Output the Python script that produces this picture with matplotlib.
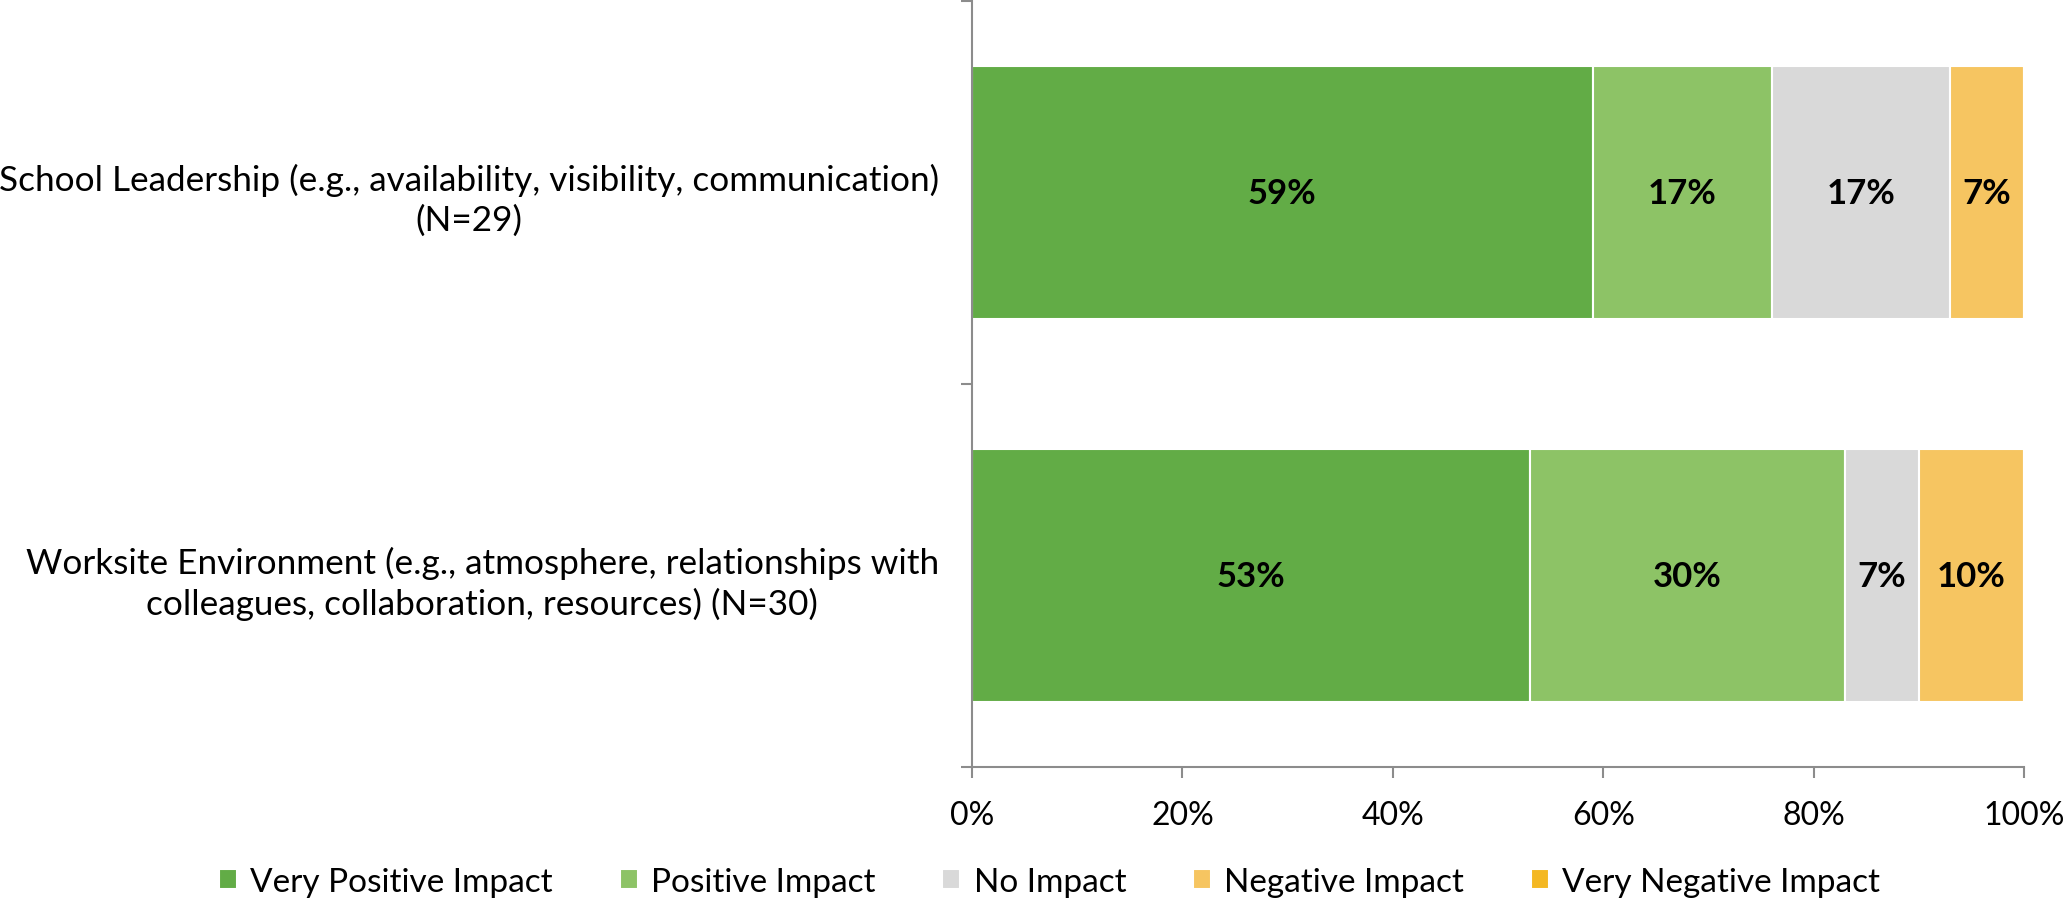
import numpy as np
import matplotlib.pyplot as plt
from matplotlib.ticker import PercentFormatter

plt.rcParams['font.family'] = ['Lato', 'DejaVu Sans']

# data
categorias = ['School Leadership (e.g., availability, visibility, communication)\n(N=29)',
              'Worksite Environment (e.g., atmosphere, relationships with\ncolleagues, collaboration, resources) (N=30)']
series = ['Very Positive Impact', 'Positive Impact', 'No Impact', 'Negative Impact', 'Very Negative Impact']
muito_positivo = [59, 53]
positivo = [17, 30]
sem_impacto = [17, 7]
negativo = [7, 10]
muito_negativo = [0, 0]
cores = ['#62AC46', '#8DC366', '#D9D9D9', '#F6C561', '#F4B823']

valores = [muito_positivo, positivo, sem_impacto, negativo, muito_negativo]

fig = plt.figure(figsize=(20.66, 9.04), dpi=100)
ax = fig.add_axes([0.4705, 0.1504, 0.5092, 0.8474])

y = np.arange(len(categorias))
esquerda = np.zeros(len(categorias))
for nome, v, cor in zip(series, valores, cores):
    v = np.array(v, dtype=float)
    ax.barh(y, v, left=esquerda, height=0.66, color=cor,
            edgecolor='white', linewidth=1.5, label=nome)
    for yi, vi, li in zip(y, v, esquerda):
        if vi > 0:
            ax.text(li + vi / 2, yi, f'{vi:.0f}%', ha='center', va='center',
                    fontsize=25, fontweight='bold', color='black')
    esquerda += v

ax.set_xlim(0, 100)
ax.set_ylim(1.5, -0.5)
ax.xaxis.set_major_formatter(PercentFormatter(decimals=0))
ax.set_xticks(np.arange(0, 101, 20))
ax.set_yticks(y)
ax.set_yticklabels(categorias, multialignment='center', linespacing=1.3)
ax.set_yticks([-0.5, 0.5, 1.5], minor=True)

cinza = '#8C8C8C'
for lado in ['top', 'right']:
    ax.spines[lado].set_visible(False)
for lado in ['left', 'bottom']:
    ax.spines[lado].set_color(cinza)
    ax.spines[lado].set_linewidth(1.5)

ax.tick_params(axis='y', which='major', length=0, pad=24, labelsize=25.3)
ax.tick_params(axis='y', which='minor', length=8, width=1.5, color=cinza)
ax.tick_params(axis='x', which='major', length=8, width=1.5, color=cinza,
               pad=16, labelsize=23)

fig.legend(loc='center', bbox_to_anchor=(0.508, 0.023), ncol=5, frameon=False,
           fontsize=24, handlelength=0.54, handleheight=0.54, handletextpad=0.4,
           columnspacing=2.0)

fig.savefig('out.png', dpi=100)
